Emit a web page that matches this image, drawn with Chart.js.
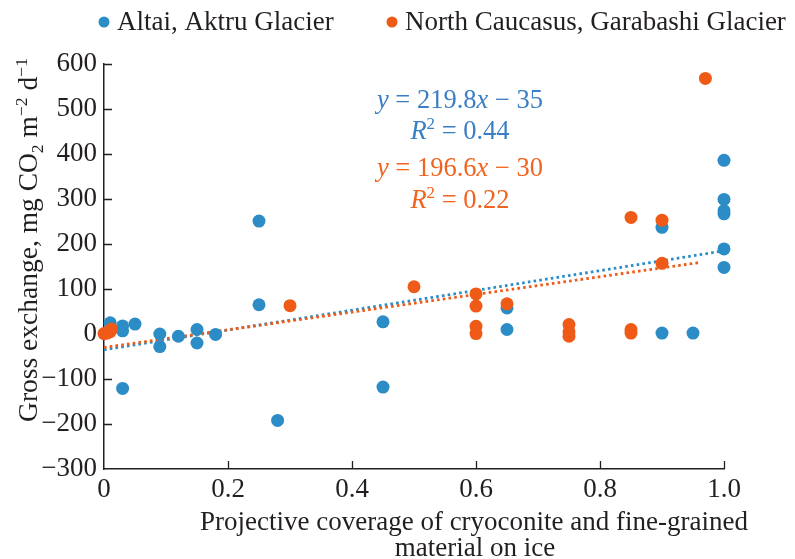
<!DOCTYPE html>
<html>
<head>
<meta charset="utf-8">
<script src="https://cdn.jsdelivr.net/npm/chart.js@4.4.1/dist/chart.umd.min.js"></script>
<style>
  html, body { margin: 0; padding: 0; background: #fff; }
</style>
</head>
<body>
<canvas id="myChart" width="795" height="559"></canvas>
<script>
// Altai, Aktru Glacier
const altaiX = [0.01, 0.03, 0.03, 0.05, 0.03, 0.09, 0.09, 0.12, 0.15, 0.15, 0.18, 0.25, 0.25, 0.28,
                0.45, 0.45, 0.65, 0.65, 0.9, 0.9, 0.95, 1.0, 1.0, 1.0, 1.0, 1.0, 1.0];
const altaiY = [25, 18, 7, 22, -121, 0, -28, -5, 10, -20, -1, 251, 65, -192,
                27, -118, 58, 10, 237, 2, 2, 386, 299, 274, 267, 189, 148];

// North Caucasus, Garabashi Glacier
const caucX = [0, 0.005, 0.01, 0.012, 0.3, 0.5, 0.6, 0.6, 0.6, 0.6, 0.65, 0.75, 0.75, 0.75,
               0.85, 0.85, 0.85, 0.9, 0.9, 0.97];
const caucY = [1, 2, 5, 11, 63, 105, 89, 62, 17, 1, 67, 21, 5, -5,
               259, 10, 2, 253, 157, 568];

// regression lines as printed on the chart
const altaiFit = { slope: 219.8, icept: -35, r2: '0.44', xFrom: 0, xTo: 1.0 };
const caucFit = { slope: 196.6, icept: -30, r2: '0.22', xFrom: 0, xTo: 0.96 };

const seriesNames = ['Altai, Aktru Glacier', 'North Caucasus, Garabashi Glacier'];
const xTicks = [0, 0.2, 0.4, 0.6, 0.8, 1.0];
const yTicks = [-300, -200, -100, 0, 100, 200, 300, 400, 500, 600];

const BLUE = '#2b8cc6';
const ORANGE = '#ef5a17';
const BLUE_TXT = '#3a7fc4';
const ORANGE_TXT = '#f0641f';
const INK = '#231f20';
const FONT = '"Liberation Serif", "Times New Roman", serif';

function toPoints(xs, ys) {
    return xs.map(function(x, i) { return { x: x, y: ys[i] }; });
}
function fitLine(f) {
    return [f.xFrom, f.xTo].map(function(x) { return { x: x, y: f.slope * x + f.icept }; });
}

// draws a row of text pieces (italic / sup / sub) centred at cx
function drawRich(ctx, parts, cx, cy, size, color) {
    const pieces = parts.map(function(p) {
        const s = (p.sup || p.sub) ? size * 0.64 : size;
        const font = (p.it ? 'italic ' : '') + s + 'px ' + FONT;
        ctx.font = font;
        return { t: p.t, font: font, w: ctx.measureText(p.t).width,
                 dy: p.sup ? -size * 0.36 : (p.sub ? size * 0.2 : 0) };
    });
    const total = pieces.reduce(function(a, p) { return a + p.w; }, 0);
    let x = cx - total / 2;
    ctx.fillStyle = color;
    ctx.textBaseline = 'alphabetic';
    ctx.textAlign = 'left';
    pieces.forEach(function(p) {
        ctx.font = p.font;
        ctx.fillText(p.t, x, cy + p.dy);
        x += p.w;
    });
}

const decor = {
    id: 'decor',
    beforeDatasetsDraw(chart) {
        const ctx = chart.ctx, xs = chart.scales.x, ys = chart.scales.y;
        const a = chart.chartArea;
        ctx.save();
        ctx.strokeStyle = INK;
        ctx.lineWidth = 1.3;
        ctx.beginPath();
        yTicks.forEach(function(v) {
            if (v === -300) return;
            const py = Math.round(ys.getPixelForValue(v)) + 0.5;
            ctx.moveTo(a.left, py); ctx.lineTo(a.left + 8, py);
        });
        xTicks.forEach(function(v) {
            if (v === 0) return;
            const px = Math.round(xs.getPixelForValue(v)) + 0.5;
            ctx.moveTo(px, a.bottom); ctx.lineTo(px, a.bottom - 8);
        });
        ctx.stroke();
        ctx.restore();
    },
    afterDraw(chart) {
        const ctx = chart.ctx;
        ctx.save();

        // legend
        ctx.font = '27px ' + FONT;
        ctx.textBaseline = 'middle';
        ctx.textAlign = 'left';
        [[104, BLUE], [392, ORANGE]].forEach(function(it, i) {
            ctx.fillStyle = it[1];
            ctx.beginPath();
            ctx.arc(it[0], 22, 5.5, 0, Math.PI * 2);
            ctx.fill();
            ctx.fillStyle = INK;
            ctx.fillText(seriesNames[i], it[0] + 13, 23);
        });

        // equations
        const eq = 26.5;
        drawRich(ctx, [{ t: 'y', it: true }, { t: ' = ' + altaiFit.slope.toFixed(1) }, { t: 'x', it: true },
                       { t: ' \u2212 ' + Math.abs(altaiFit.icept) }], 460, 108, eq, BLUE_TXT);
        drawRich(ctx, [{ t: 'R', it: true }, { t: '2', sup: true }, { t: ' = ' + altaiFit.r2 }],
                 460, 139, eq, BLUE_TXT);
        drawRich(ctx, [{ t: 'y', it: true }, { t: ' = ' + caucFit.slope.toFixed(1) }, { t: 'x', it: true },
                       { t: ' \u2212 ' + Math.abs(caucFit.icept) }], 460, 176, eq, ORANGE_TXT);
        drawRich(ctx, [{ t: 'R', it: true }, { t: '2', sup: true }, { t: ' = ' + caucFit.r2 }],
                 460, 208, eq, ORANGE_TXT);

        // x title
        drawRich(ctx, [{ t: 'Projective coverage of cryoconite and fine-grained' }], 474, 530, 27, INK);
        drawRich(ctx, [{ t: 'material on ice' }], 475, 556, 27, INK);

        // y title
        ctx.translate(37, 240);
        ctx.rotate(-Math.PI / 2);
        drawRich(ctx, [{ t: 'Gross exchange, mg CO' }, { t: '2', sub: true }, { t: ' m' },
                       { t: '\u22122', sup: true }, { t: ' d' }, { t: '\u22121', sup: true }], 0, 0, 27.5, INK);
        ctx.restore();
    }
};

const chart = new Chart(document.getElementById('myChart'), {
    type: 'scatter',
    data: {
        datasets: [
            {
                label: seriesNames[1],
                data: toPoints(caucX, caucY),
                backgroundColor: ORANGE,
                borderWidth: 0,
                pointRadius: 6.5,
                order: 0,
                clip: false
            },
            {
                label: seriesNames[0],
                data: toPoints(altaiX, altaiY),
                backgroundColor: BLUE,
                borderWidth: 0,
                pointRadius: 6.5,
                order: 1,
                clip: false
            },
            {
                type: 'line',
                label: 'fit1',
                data: fitLine(caucFit),
                borderColor: ORANGE,
                borderWidth: 2.8,
                borderDash: [2.6, 3.2],
                pointRadius: 0,
                order: 2
            },
            {
                type: 'line',
                label: 'fit0',
                data: fitLine(altaiFit),
                borderColor: BLUE,
                borderWidth: 2.8,
                borderDash: [2.6, 3.2],
                pointRadius: 0,
                order: 3
            }
        ]
    },
    options: {
        responsive: false,
        animation: false,
        devicePixelRatio: 1,
        layout: { padding: { top: 64, right: 71, left: 0, bottom: 0 } },
        plugins: {
            legend: { display: false },
            tooltip: { enabled: false }
        },
        scales: {
            x: {
                type: 'linear',
                min: 0,
                max: 1,
                afterFit: function(s) { s.height = 90; },
                afterBuildTicks: function(s) { s.ticks = xTicks.map(function(v) { return { value: v }; }); },
                grid: { display: false, drawTicks: false },
                border: { display: true, color: INK, width: 1.5 },
                ticks: {
                    padding: 5,
                    color: INK,
                    font: { family: FONT, size: 27 },
                    callback: function(v) { return v === 0 ? '0' : v.toFixed(1); }
                }
            },
            y: {
                min: -300,
                max: 600,
                afterFit: function(s) { s.width = 104; },
                afterBuildTicks: function(s) { s.ticks = yTicks.map(function(v) { return { value: v }; }); },
                grid: { display: false, drawTicks: false },
                border: { display: true, color: INK, width: 1.5 },
                ticks: {
                    padding: 7,
                    color: INK,
                    font: { family: FONT, size: 27 },
                    callback: function(v) { return String(v).replace('-', '\u2212'); }
                }
            }
        }
    },
    plugins: [decor]
});
</script>
</body>
</html>
